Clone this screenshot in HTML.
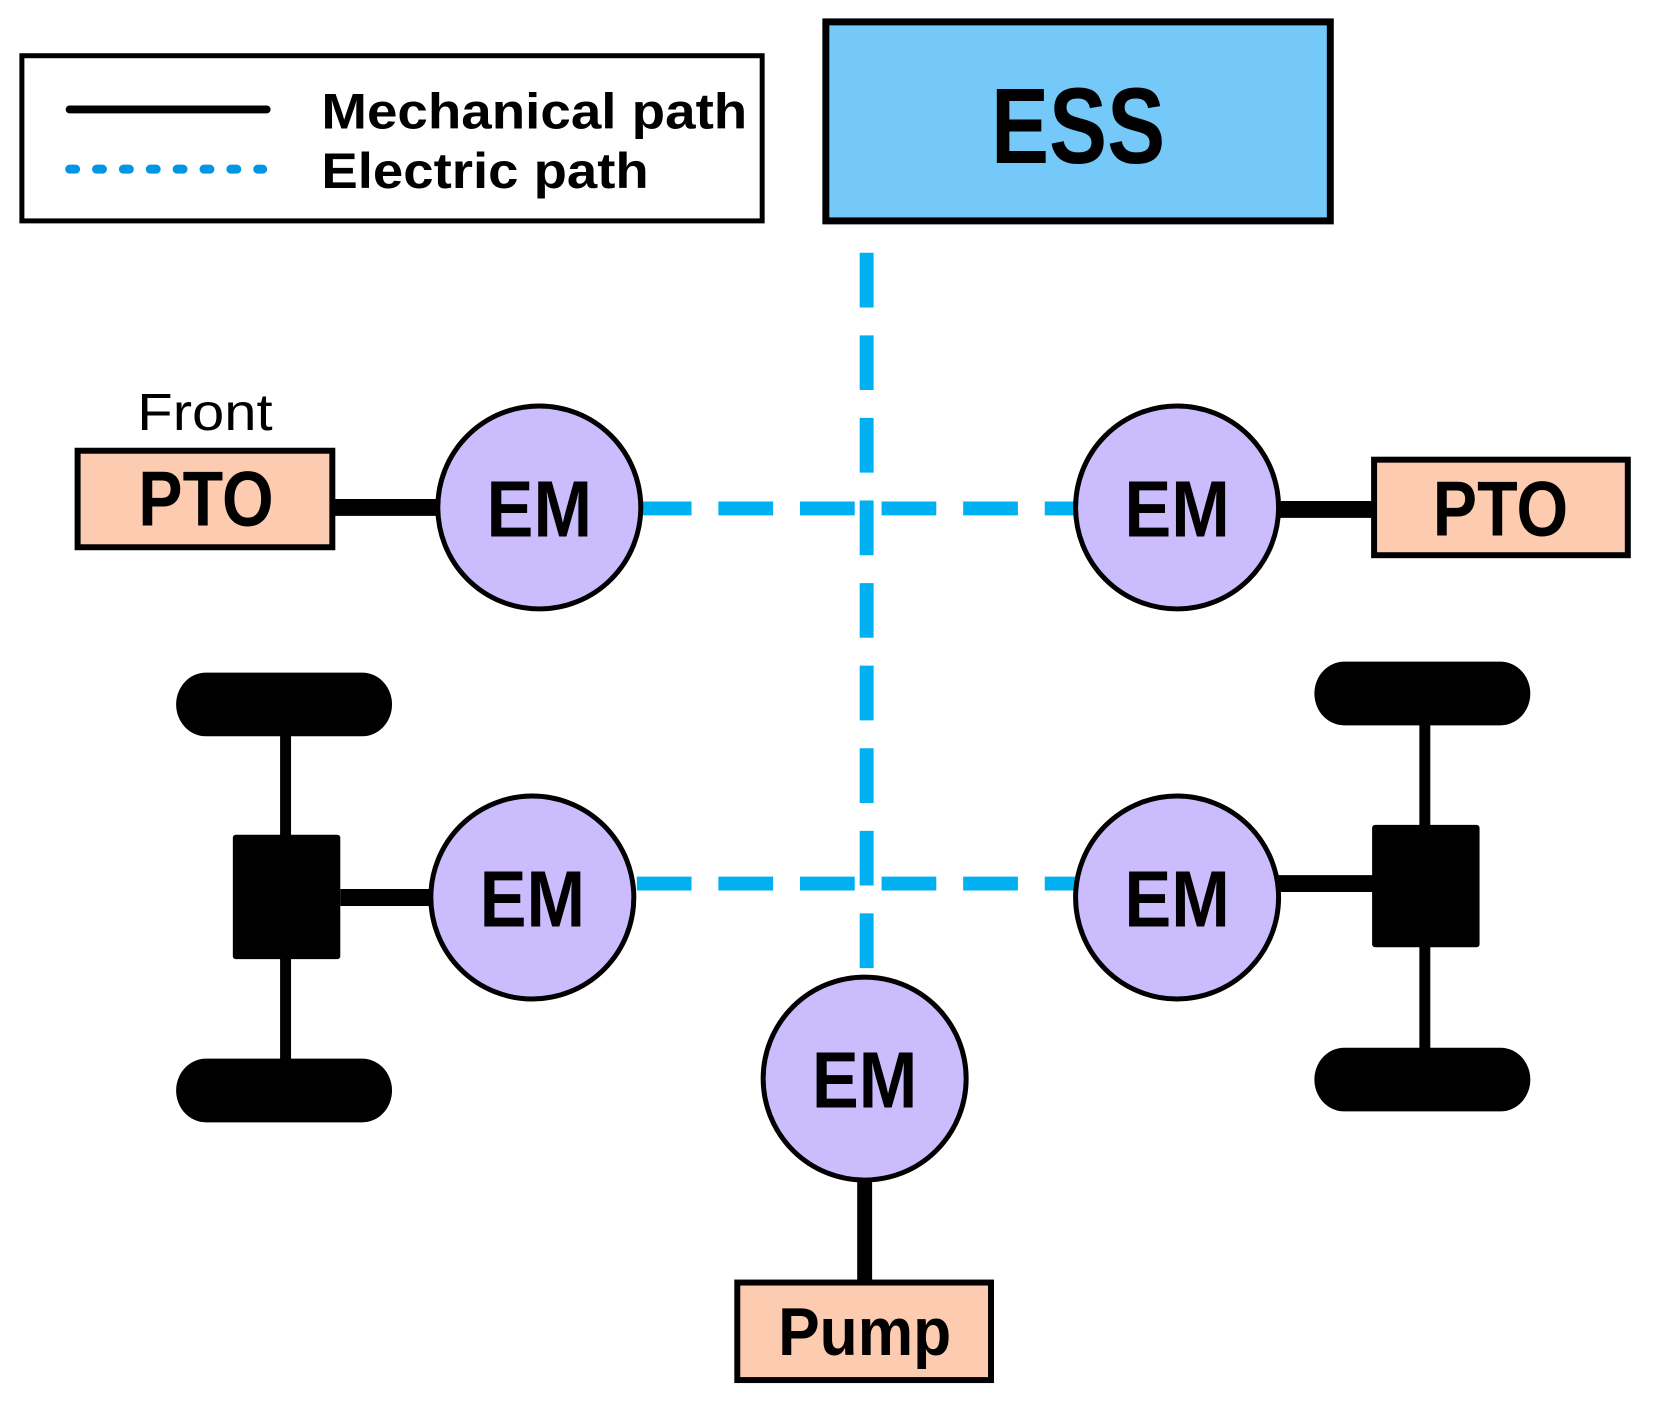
<!DOCTYPE html>
<html><head><style>html,body{margin:0;padding:0;background:#fff}svg{display:block}</style></head>
<body>
<svg width="1653" height="1405" viewBox="0 0 1653 1405" xmlns="http://www.w3.org/2000/svg" font-family="Liberation Sans, sans-serif">
<rect x="0" y="0" width="1653" height="1405" fill="#fff"/>
<g transform="scale(0.995)">
<!-- legend -->
<rect x="22" y="56" width="744" height="166" fill="#fff" stroke="#000" stroke-width="5"/>
<line x1="70" y1="110" x2="268" y2="110" stroke="#000" stroke-width="8" stroke-linecap="round"/>
<line x1="70" y1="170" x2="264" y2="170" stroke="#0096e6" stroke-width="9" stroke-linecap="round" stroke-dasharray="6 21"/>
<text x="323" y="129" font-size="50" font-weight="bold" textLength="428" lengthAdjust="spacingAndGlyphs">Mechanical path</text>
<text x="323" y="189" font-size="50" font-weight="bold" textLength="329" lengthAdjust="spacingAndGlyphs">Electric path</text>
<!-- ESS -->
<rect x="830" y="22" width="507" height="200" fill="#75c9f9" stroke="#000" stroke-width="7"/>
<text x="996" y="164" font-size="108" font-weight="bold" textLength="175" lengthAdjust="spacingAndGlyphs">ESS</text>
<!-- electric dashed lines -->
<g stroke="#00b0f0" stroke-width="14" fill="none">
<line x1="871" y1="254" x2="871" y2="975" stroke-dasharray="55 28"/>
<line x1="640" y1="511" x2="1086" y2="511" stroke-dasharray="55 27"/>
<line x1="640" y1="888" x2="1089" y2="888" stroke-dasharray="55 27"/>
</g>
<!-- mechanical lines -->
<g stroke="#000" fill="none">
<line x1="335" y1="510" x2="442" y2="510" stroke-width="17"/>
<line x1="1280" y1="512" x2="1380" y2="512" stroke-width="17"/>
<line x1="342" y1="902" x2="440" y2="902" stroke-width="17"/>
<line x1="1280" y1="888" x2="1380" y2="888" stroke-width="17"/>
<line x1="869" y1="1185" x2="869" y2="1290" stroke-width="15"/>
<line x1="287" y1="720" x2="287" y2="1080" stroke-width="11"/>
<line x1="1432" y1="710" x2="1432" y2="1070" stroke-width="11"/>
</g>
<!-- wheels and diff boxes -->
<g fill="#000">
<rect x="177" y="676" width="217" height="64" rx="30" ry="32"/>
<rect x="177" y="1064" width="217" height="64" rx="30" ry="32"/>
<rect x="234" y="839" width="108" height="125" rx="3"/>
<rect x="1321" y="665" width="217" height="64" rx="30" ry="32"/>
<rect x="1321" y="1053" width="217" height="64" rx="30" ry="32"/>
<rect x="1379" y="829" width="108" height="123" rx="3"/>
</g>
<!-- PTOs & pump -->
<g stroke="#000" stroke-width="6" fill="#fccbb0">
<rect x="78" y="453" width="256" height="97"/>
<rect x="1381" y="462" width="255" height="96"/>
<rect x="741" y="1289" width="255" height="98"/>
</g>
<g font-weight="bold" fill="#000">
<text x="139" y="528" font-size="78" textLength="136" lengthAdjust="spacingAndGlyphs">PTO</text>
<text x="1440" y="538" font-size="78" textLength="136" lengthAdjust="spacingAndGlyphs">PTO</text>
<text x="782" y="1362" font-size="68" textLength="174" lengthAdjust="spacingAndGlyphs">Pump</text>
</g>
<text x="138" y="432" font-size="52" textLength="136" lengthAdjust="spacingAndGlyphs">Front</text>
<!-- EMs -->
<g stroke="#000" stroke-width="5" fill="#cbbdfd">
<circle cx="542" cy="510" r="102"/>
<circle cx="1183" cy="510" r="102"/>
<circle cx="535" cy="902" r="102"/>
<circle cx="1183" cy="902" r="102"/>
<circle cx="869" cy="1084" r="102"/>
</g>
<g font-weight="bold" font-size="80" fill="#000">
<text x="489" y="539" textLength="106" lengthAdjust="spacingAndGlyphs">EM</text>
<text x="1130" y="539" textLength="106" lengthAdjust="spacingAndGlyphs">EM</text>
<text x="482" y="931" textLength="106" lengthAdjust="spacingAndGlyphs">EM</text>
<text x="1130" y="931" textLength="106" lengthAdjust="spacingAndGlyphs">EM</text>
<text x="816" y="1113" textLength="106" lengthAdjust="spacingAndGlyphs">EM</text>
</g>
</g>
</svg>
</body></html>
